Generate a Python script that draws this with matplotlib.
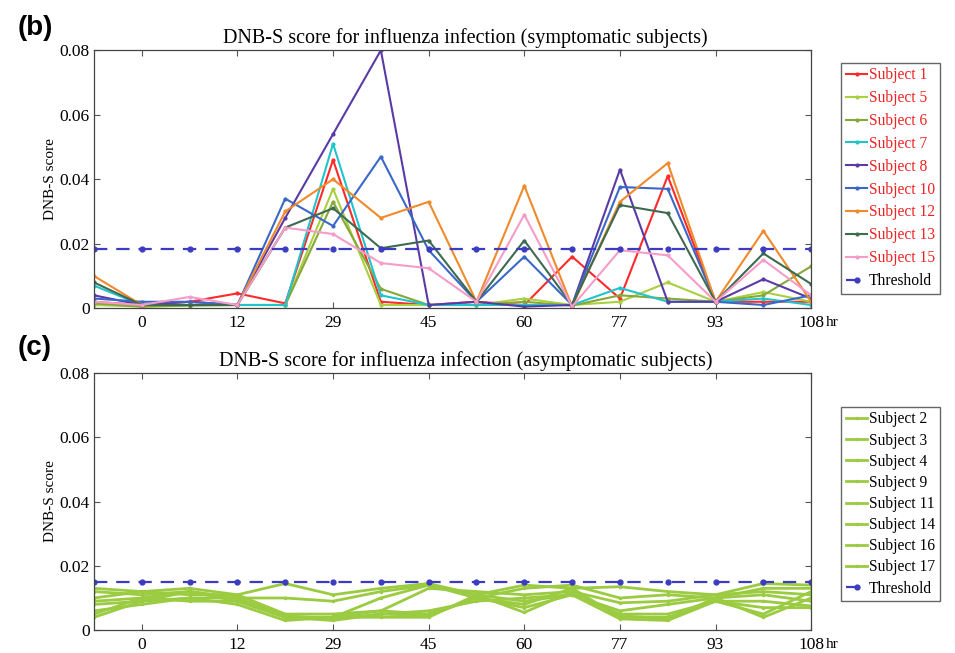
import numpy as np
import matplotlib.pyplot as plt

plt.rcParams['font.family'] = ['Liberation Serif', 'DejaVu Serif']

# time points (plotted at equal spacing, every other one labelled)
hours = ['-', '0', '5', '12', '21', '29', '36', '45', '53', '60', '69', '77', '85', '93', '101', '108']
tick_labels = ['0', '12', '29', '45', '60', '77', '93', '108']

# symptomatic subjects
sym_names = ['Subject 1', 'Subject 5', 'Subject 6', 'Subject 7', 'Subject 8',
             'Subject 10', 'Subject 12', 'Subject 13', 'Subject 15']
sym_colors = ['#ff2a2a', '#a8d040', '#86a838', '#22c4cc', '#5a3aa6',
              '#3a68c8', '#f08a2a', '#3e6a50', '#f59cc8']
s1 = [0.002, 0.001, 0.002, 0.0046, 0.0015, 0.046, 0.002, 0.001, 0.002, 0.001, 0.016, 0.003, 0.041, 0.002, 0.002, 0.002]
s5 = [0.001, 0.0005, 0.001, 0.001, 0.001, 0.037, 0.001, 0.001, 0.001, 0.003, 0.001, 0.002, 0.008, 0.002, 0.005, 0.002]
s6 = [0.0015, 0.0005, 0.0008, 0.001, 0.001, 0.033, 0.006, 0.001, 0.001, 0.002, 0.0008, 0.004, 0.003, 0.002, 0.004, 0.013]
s7 = [0.007, 0.001, 0.001, 0.001, 0.001, 0.051, 0.004, 0.001, 0.001, 0.001, 0.001, 0.0063, 0.002, 0.002, 0.003, 0.001]
s8 = [0.004, 0.001, 0.002, 0.001, 0.028, 0.054, 0.080, 0.001, 0.002, 0.0005, 0.001, 0.043, 0.002, 0.002, 0.009, 0.003]
s10 = [0.003, 0.002, 0.002, 0.001, 0.034, 0.0255, 0.047, 0.018, 0.002, 0.016, 0.001, 0.0376, 0.037, 0.002, 0.001, 0.004]
s12 = [0.010, 0.001, 0.001, 0.001, 0.030, 0.040, 0.028, 0.033, 0.002, 0.038, 0.0005, 0.033, 0.045, 0.002, 0.024, 0.002]
s13 = [0.008, 0.001, 0.001, 0.001, 0.025, 0.031, 0.0186, 0.021, 0.002, 0.021, 0.001, 0.032, 0.0295, 0.002, 0.017, 0.0075]
s15 = [0.002, 0.001, 0.0035, 0.001, 0.025, 0.023, 0.014, 0.0124, 0.002, 0.029, 0.0005, 0.018, 0.0164, 0.002, 0.015, 0.004]
sym_series = [s1, s5, s6, s7, s8, s10, s12, s13, s15]
sym_threshold = 0.0185

# asymptomatic subjects
asym_names = ['Subject 2', 'Subject 3', 'Subject 4', 'Subject 9',
              'Subject 11', 'Subject 14', 'Subject 16', 'Subject 17']
a2 = [0.013, 0.012, 0.013, 0.011, 0.0145, 0.011, 0.013, 0.0145, 0.011, 0.014, 0.013, 0.0135, 0.012, 0.011, 0.0145, 0.014]
a3 = [0.012, 0.011, 0.012, 0.010, 0.010, 0.009, 0.012, 0.014, 0.010, 0.013, 0.014, 0.010, 0.011, 0.010, 0.013, 0.013]
a4 = [0.010, 0.012, 0.011, 0.011, 0.005, 0.005, 0.006, 0.013, 0.012, 0.011, 0.012, 0.0085, 0.009, 0.011, 0.012, 0.011]
a9 = [0.009, 0.010, 0.012, 0.009, 0.004, 0.004, 0.010, 0.014, 0.011, 0.009, 0.011, 0.006, 0.008, 0.010, 0.011, 0.009]
a11 = [0.008, 0.009, 0.010, 0.010, 0.004, 0.003, 0.005, 0.006, 0.009, 0.010, 0.011, 0.005, 0.005, 0.009, 0.009, 0.0075]
a14 = [0.006, 0.008, 0.010, 0.008, 0.003, 0.004, 0.006, 0.005, 0.010, 0.008, 0.013, 0.004, 0.004, 0.009, 0.007, 0.007]
a16 = [0.005, 0.010, 0.009, 0.009, 0.004, 0.004, 0.004, 0.004, 0.011, 0.0055, 0.012, 0.0045, 0.0035, 0.010, 0.004, 0.010]
a17 = [0.004, 0.009, 0.012, 0.010, 0.0045, 0.0035, 0.005, 0.0045, 0.010, 0.007, 0.011, 0.0035, 0.003, 0.009, 0.005, 0.012]
asym_series = [a2, a3, a4, a9, a11, a14, a16, a17]
asym_threshold = 0.015

x = np.arange(1, len(hours) + 1)
thr_color = '#3c3cc0'

fig = plt.figure(figsize=(9.55, 6.53), dpi=100)
ax1 = fig.add_axes([0.0984, 0.528, 0.751, 0.395])
ax2 = fig.add_axes([0.0984, 0.035, 0.751, 0.394])


def style_axes(ax, title):
    ax.set_xlim(1, 16)
    ax.set_ylim(0, 0.08)
    ax.set_xticks(x[1::2])
    ax.set_xticklabels(tick_labels, fontsize=12.5)
    ax.set_yticks([0, 0.02, 0.04, 0.06, 0.08])
    ax.set_yticklabels(['0', '0.02', '0.04', '0.06', '0.08'], fontsize=12.5)
    ax.tick_params(direction='in', top=True, right=True, length=4, color='#555555')
    ax.tick_params(axis='x', pad=5)
    ax.tick_params(axis='y', pad=3)
    for sp in ax.spines.values():
        sp.set_color('#444444')
        sp.set_linewidth(0.9)
    ax.set_ylabel('DNB-S score', fontsize=11, labelpad=2)
    ax.set_title(title, fontsize=14.5, x=0.518, pad=5)
    ax.text(1.021, -0.055, 'hr', transform=ax.transAxes, fontsize=11, va='center')


# (b) symptomatic
for vals, name, col in zip(sym_series, sym_names, sym_colors):
    ax1.plot(x, vals, color=col, lw=1.5, marker='.', ms=4, label=name)
ax1.plot(x, [sym_threshold] * len(x), color=thr_color, lw=1.6, ls=(0, (6, 4)),
         marker='.', ms=7, label='Threshold')
style_axes(ax1, 'DNB-S score for influenza infection (symptomatic subjects)')
leg1 = ax1.legend(loc='upper left', bbox_to_anchor=(0.8806, 0.904), bbox_transform=fig.transFigure,
                  fontsize=11.2, handlelength=1.4, handletextpad=0.1, labelspacing=0.44,
                  borderpad=0.3, borderaxespad=0, fancybox=False, edgecolor='#666666', framealpha=1)
for t, col in zip(leg1.get_texts(), sym_colors + ['black']):
    t.set_color('#ee2222' if col != 'black' else 'black')

# (c) asymptomatic
for vals, name in zip(asym_series, asym_names):
    ax2.plot(x, vals, color='#9acb40', lw=2, marker='.', ms=3, label=name)
ax2.plot(x, [asym_threshold] * len(x), color=thr_color, lw=1.6, ls=(0, (6, 4)),
         marker='.', ms=7, label='Threshold')
style_axes(ax2, 'DNB-S score for influenza infection (asymptomatic subjects)')
ax2.legend(loc='upper left', bbox_to_anchor=(0.8806, 0.377), bbox_transform=fig.transFigure,
           fontsize=11.2, handlelength=1.4, handletextpad=0.1, labelspacing=0.33,
           borderpad=0.3, borderaxespad=0, fancybox=False, edgecolor='#666666', framealpha=1)

fig.text(0.018, 0.957, '(b)', fontsize=20, fontweight='bold', family='Liberation Sans', va='center')
fig.text(0.018, 0.467, '(c)', fontsize=20, fontweight='bold', family='Liberation Sans', va='center')

fig.savefig('out.png', dpi=100)
